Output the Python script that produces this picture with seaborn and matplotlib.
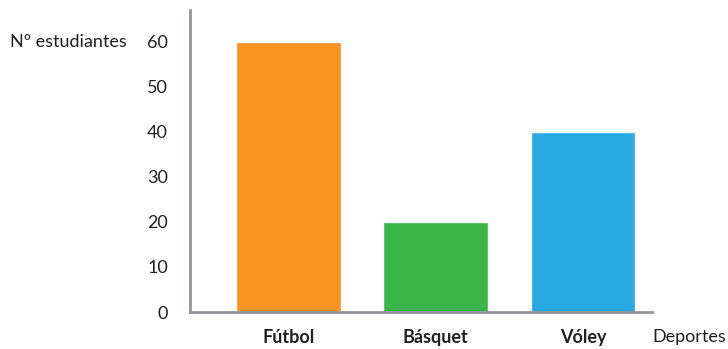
import matplotlib
matplotlib.use("Agg")
import matplotlib.pyplot as plt
import seaborn as sns
import pandas as pd

# ─── Data ────────────────────────────────────────────────
deportes = ["Fútbol", "Básquet", "Vóley"]
estudiantes = [60, 20, 40]
colores = ["#F7931E", "#39B54A", "#29A9E1"]
y_ticks = [0, 10, 20, 30, 40, 50, 60]

AXIS = "#939598"
TEXT = "#231F20"

sns.set_theme(style="white")
plt.rcParams["font.family"] = ["Lato", "DejaVu Sans"]

df = pd.DataFrame({"Deporte": deportes, "Estudiantes": estudiantes})

fig = plt.figure(figsize=(7.28, 3.49), dpi=100)
ax = fig.add_axes([0.261, 0.106, 0.635, 0.865])

sns.barplot(data=df, x="Deporte", y="Estudiantes", hue="Deporte",
            palette=colores, width=0.71, saturation=1, legend=False, ax=ax)

ax.set_xlim(-0.667, 2.47)
ax.set_ylim(0, 67)
ax.set_yticks(y_ticks)
ax.set_yticklabels([str(t) for t in y_ticks], fontsize=13, color=TEXT)
ax.set_xticks(range(len(deportes)))
ax.set_xticklabels(deportes, fontsize=13, fontweight="bold", color=TEXT)
ax.tick_params(axis="y", length=0, pad=16)
ax.tick_params(axis="x", length=0, pad=12)
ax.set_xlabel("")
ax.set_ylabel("")

for side in ["top", "right"]:
    ax.spines[side].set_visible(False)
for side in ["left", "bottom"]:
    ax.spines[side].set_color(AXIS)
    ax.spines[side].set_linewidth(2)

fig.text(10 / 728, 1 - 42 / 349, "Nº estudiantes", fontsize=13, color=TEXT,
         ha="left", va="center")
fig.text(726 / 728, 1 - 337 / 349, "Deportes", fontsize=13, color=TEXT,
         ha="right", va="center")

fig.savefig("out.png", dpi=100)
